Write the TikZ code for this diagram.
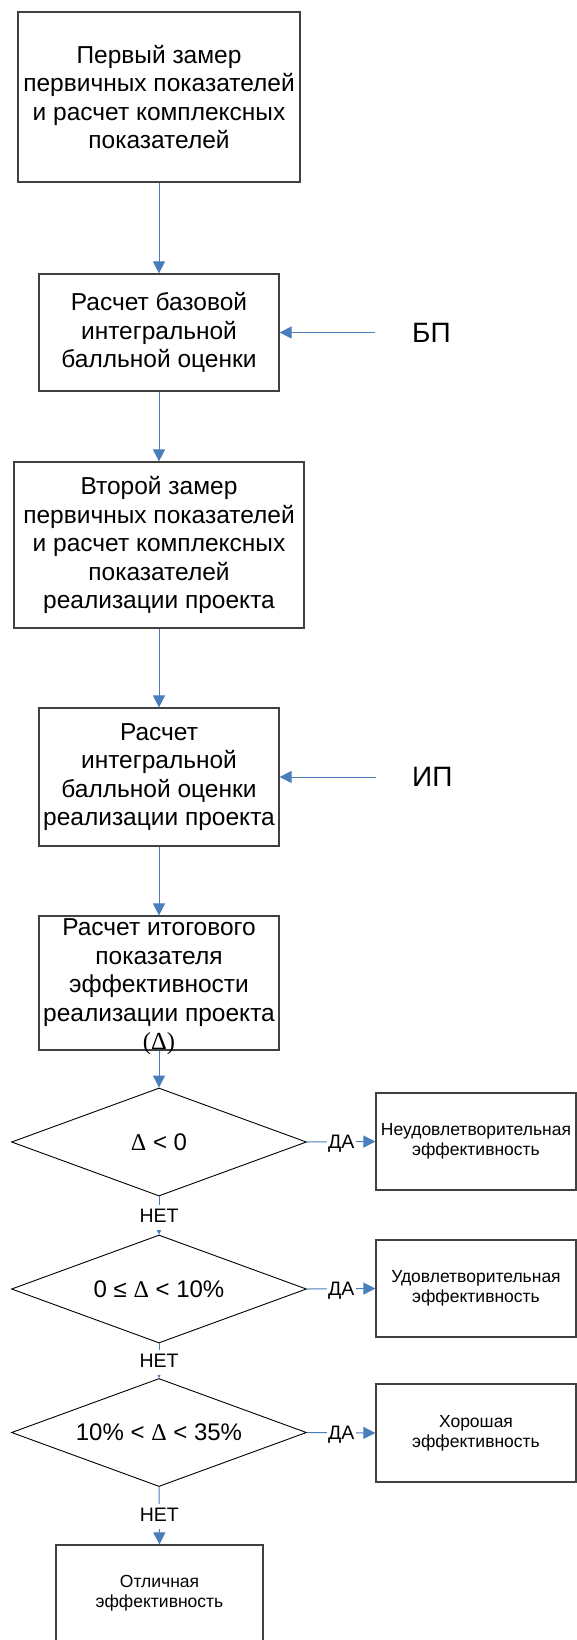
\documentclass[tikz,border=0pt]{standalone}
\usepackage{fontspec}
\setmainfont{Liberation Sans}
\newfontfamily\symf{Liberation Serif}
\usetikzlibrary{shapes.geometric,arrows.meta}
\definecolor{arrowblue}{HTML}{4A7EBB}
\definecolor{boxline}{HTML}{404040}
\newcommand{\dlt}{{\symf Δ}}
\begin{document}
\begin{tikzpicture}[x=1pt,y=-1pt,
  procbox/.style={draw=boxline, line width=1.2pt, rectangle, inner sep=0pt},
  bigtext/.style={font=\fontsize{24.5}{28.5}\selectfont, align=center, inner sep=0pt},
  dtext/.style={font=\fontsize{24}{28}\selectfont, align=center, inner sep=0pt},
  smalltext/.style={font=\fontsize{17.5}{20}\selectfont, align=center, inner sep=0pt},
  decision/.style={draw=black, line width=0.9pt, diamond, inner sep=0pt, minimum width=295pt, minimum height=108pt},
  flow/.style={draw=arrowblue, line width=1pt, -{Triangle[length=12pt,width=12pt]}},
  yeslbl/.style={font=\fontsize{19.5}{20}\selectfont, fill=white, inner xsep=1.5pt, inner ysep=0pt, text height=14pt, text depth=0pt},
  nolbl/.style={font=\fontsize{19.5}{20}\selectfont, fill=white, inner xsep=1.5pt, inner ysep=1.5pt, text height=16pt, text depth=6pt},
  sidelbl/.style={font=\fontsize{28}{30}\selectfont, anchor=west, inner sep=0pt}
]
\useasboundingbox (0,0) rectangle (577,1640);

\node[procbox, minimum width=282pt, minimum height=170pt,
  label={[bigtext]center:Первый замер\\первичных показателей\\и расчет комплексных\\показателей}] (b1) at (159,97) {};
\node[procbox, minimum width=240pt, minimum height=117pt,
  label={[bigtext]center:Расчет базовой\\интегральной\\балльной оценки}] (b2) at (159,332.5) {};
\node[procbox, minimum width=290pt, minimum height=166pt,
  label={[bigtext]center:Второй замер\\первичных показателей\\и расчет комплексных\\показателей\\реализации проекта}] (b3) at (159,545) {};
\node[procbox, minimum width=240pt, minimum height=138pt,
  label={[bigtext]center:Расчет\\интегральной\\балльной оценки\\реализации проекта}] (b4) at (159,777) {};
\node[procbox, minimum width=240pt, minimum height=134pt,
  label={[bigtext, yshift=-4pt]center:Расчет итогового\\показателя\\эффективности\\реализации проекта\\{\symf(Δ)}}] (b5) at (159,983) {};

\node[decision, label={[dtext]center:\dlt{} < 0}] (d1) at (159,1142) {};
\node[decision, label={[dtext]center:0 ≤ \dlt{} < 10\%}] (d2) at (159,1289) {};
\node[decision, label={[dtext]center:10\% < \dlt{} < 35\%}] (d3) at (159,1432.5) {};

\node[procbox, minimum width=200pt, minimum height=97pt,
  label={[smalltext]center:Неудовлетворительная\\эффективность}] (r1) at (476,1141.5) {};
\node[procbox, minimum width=200pt, minimum height=97pt,
  label={[smalltext]center:Удовлетворительная\\эффективность}] (r2) at (476,1288.5) {};
\node[procbox, minimum width=200pt, minimum height=98pt,
  label={[smalltext]center:Хорошая\\эффективность}] (r3) at (476,1433) {};
\node[procbox, minimum width=207pt, minimum height=97pt,
  label={[smalltext]center:Отличная\\эффективность}] (b9) at (159.5,1593.5) {};

\node[sidelbl] (bp) at (412,332.5) {БП};
\node[sidelbl] (ip) at (412,777) {ИП};
\coordinate (bpin) at (375,332.5);
\coordinate (ipin) at (376,777);

\draw[flow] (b1.south) -- (b2.north);
\draw[flow] (bpin) -- (b2.east);
\draw[flow] (b2.south) -- (b3.north);
\draw[flow] (b3.south) -- (b4.north);
\draw[flow] (ipin) -- (b4.east);
\draw[flow] (b4.south) -- (b5.north);
\draw[flow] (b5.south) -- (d1.north);

\draw[flow] (d1.east) -- node[yeslbl]{ДА} (r1.west);
\draw[flow] (d2.east) -- node[yeslbl]{ДА} (r2.west);
\draw[flow] (d3.east) -- node[yeslbl]{ДА} (r3.west);

\draw[flow] (d1.south) -- node[nolbl, pos=0.54]{НЕТ} (d2.north);
\draw[flow] (d2.south) -- node[nolbl, pos=0.54]{НЕТ} (d3.north);
\draw[flow] (d3.south) -- node[nolbl, pos=0.52]{НЕТ} (b9.north);
\end{tikzpicture}
\end{document}
